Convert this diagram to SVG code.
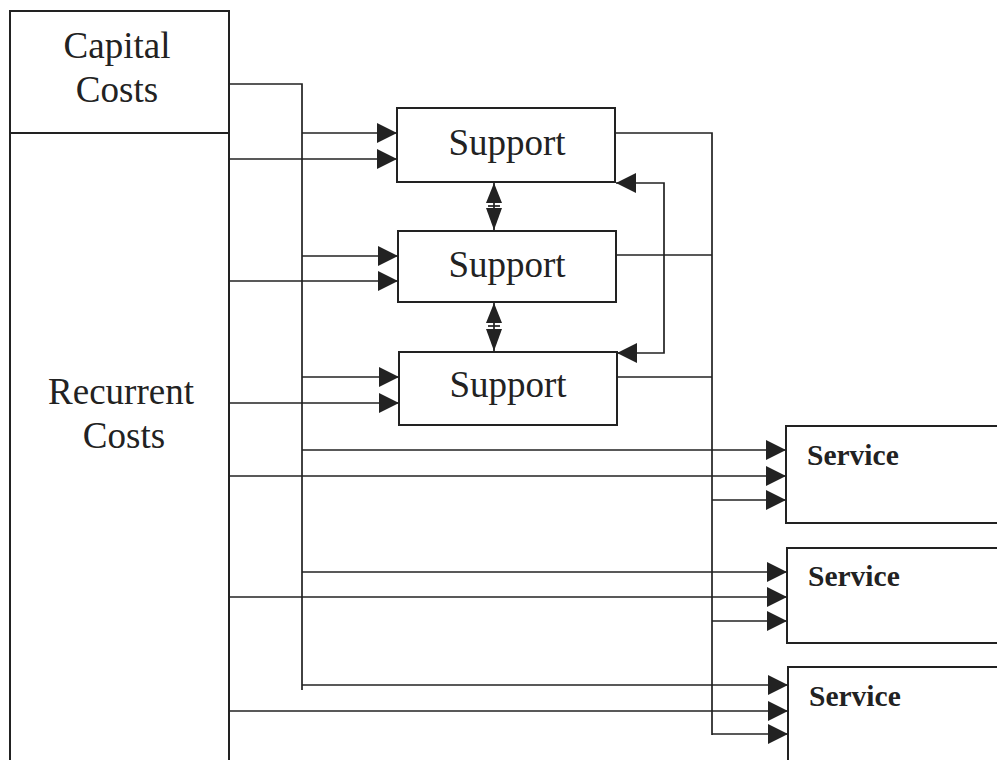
<svg xmlns="http://www.w3.org/2000/svg" width="997" height="760" viewBox="0 0 997 760">
<style>
.box{fill:#fff;stroke:#222;stroke-width:2}
.ln{fill:none;stroke:#222;stroke-width:1.7}
.t{font-family:"Liberation Serif","Times New Roman",serif;font-size:37px;fill:#222;text-anchor:middle}
.s{font-family:"Liberation Serif","Times New Roman",serif;font-size:29.5px;font-weight:bold;fill:#222}
.ah{fill:#222}
</style>
<defs>
<marker id="arr" markerUnits="userSpaceOnUse" markerWidth="20" markerHeight="20" refX="20" refY="10" orient="auto-start-reverse" viewBox="0 0 20 20">
<path d="M0,0 L20,10 L0,20 z" fill="#222"/>
</marker>
</defs>
<rect width="997" height="760" fill="#fff"/>
<g id="capital">
<rect class="box" x="10" y="11" width="219" height="122"/>
<text class="t" x="117" y="58">Capital</text>
<text class="t" x="117" y="102">Costs</text>
</g>
<g id="recurrent">
<rect class="box" x="10" y="133" width="219" height="700"/>
<text class="t" x="121" y="404">Recurrent</text>
<text class="t" x="124" y="448">Costs</text>
</g>
<g id="support1">
<rect class="box" x="397" y="108" width="218" height="74"/>
<text class="t" x="507" y="155">Support</text>
</g>
<g id="support2">
<rect class="box" x="398" y="231" width="218" height="71"/>
<text class="t" x="507" y="277">Support</text>
</g>
<g id="support3">
<rect class="box" x="399" y="352" width="218" height="73"/>
<text class="t" x="508" y="397">Support</text>
</g>
<g id="service1">
<rect class="box" x="786" y="426" width="230" height="97"/>
<text class="s" x="807" y="465">Service</text>
</g>
<g id="service2">
<rect class="box" x="787" y="548" width="230" height="95"/>
<text class="s" x="808" y="586">Service</text>
</g>
<g id="service3">
<rect class="box" x="788" y="667" width="230" height="130"/>
<text class="s" x="809" y="706">Service</text>
</g>
<g id="connectors">
<polyline class="ln" points="229,84 302,84 302,690"/>
<line class="ln" x1="302" y1="133" x2="397" y2="133" marker-end="url(#arr)"/>
<line class="ln" x1="302" y1="256" x2="398" y2="256" marker-end="url(#arr)"/>
<line class="ln" x1="302" y1="377" x2="399" y2="377" marker-end="url(#arr)"/>
<line class="ln" x1="302" y1="450" x2="786" y2="450" marker-end="url(#arr)"/>
<line class="ln" x1="302" y1="572" x2="787" y2="572" marker-end="url(#arr)"/>
<line class="ln" x1="302" y1="685" x2="788" y2="685" marker-end="url(#arr)"/>
<line class="ln" x1="229" y1="159" x2="397" y2="159" marker-end="url(#arr)"/>
<line class="ln" x1="229" y1="281" x2="398" y2="281" marker-end="url(#arr)"/>
<line class="ln" x1="229" y1="403" x2="399" y2="403" marker-end="url(#arr)"/>
<line class="ln" x1="229" y1="476" x2="786" y2="476" marker-end="url(#arr)"/>
<line class="ln" x1="229" y1="597" x2="787" y2="597" marker-end="url(#arr)"/>
<line class="ln" x1="229" y1="711" x2="788" y2="711" marker-end="url(#arr)"/>
<polyline class="ln" points="615,133 712,133 712,735"/>
<line class="ln" x1="616" y1="255" x2="712" y2="255"/>
<line class="ln" x1="617" y1="377" x2="712" y2="377"/>
<line class="ln" x1="712" y1="500" x2="786" y2="500" marker-end="url(#arr)"/>
<line class="ln" x1="712" y1="621" x2="787" y2="621" marker-end="url(#arr)"/>
<line class="ln" x1="712" y1="734" x2="788" y2="734" marker-end="url(#arr)"/>
<polyline class="ln" points="616,183 664,183 664,353 617,353" marker-start="url(#arr)" marker-end="url(#arr)"/>
<line class="ln" x1="494" y1="182" x2="494" y2="231"/>
<polygon class="ah" points="494,183 486,203 502,203"/>
<polygon class="ah" points="494,230 486,208 502,208"/>
<line class="ln" x1="488" y1="206" x2="500" y2="206"/>
<line class="ln" x1="494" y1="302" x2="494" y2="352"/>
<polygon class="ah" points="494,303 486,323 502,323"/>
<polygon class="ah" points="494,351 486,329 502,329"/>
<line class="ln" x1="488" y1="326" x2="500" y2="326"/>
</g>
</svg>
